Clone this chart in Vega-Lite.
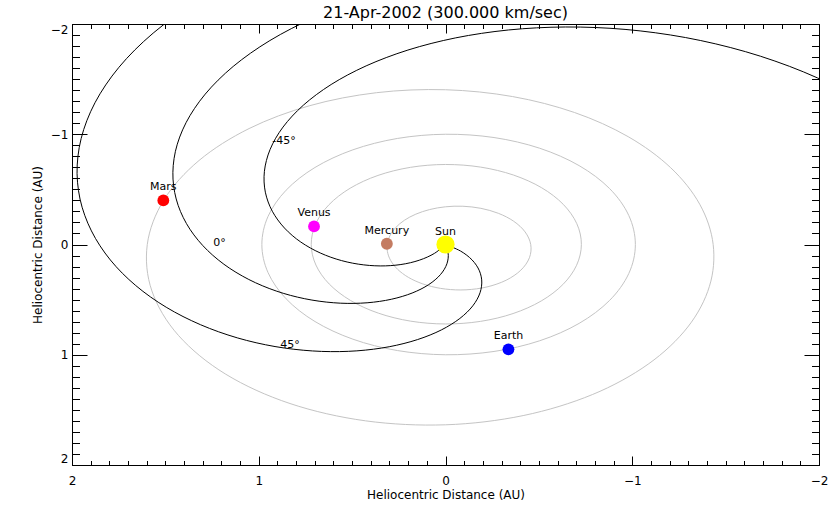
{
  "$schema": "https://vega.github.io/schema/vega-lite/v6.json",
  "width": 747,
  "height": 441,
  "autosize": {"type": "none"},
  "padding": {"left": 72, "top": 24, "right": 21, "bottom": 49},
  "background": "white",
  "title": {
    "text": "21-Apr-2002 (300.000 km/sec)",
    "font": "DejaVu Sans",
    "fontSize": 16,
    "fontWeight": "normal",
    "color": "black",
    "anchor": "middle",
    "offset": 2
  },
  "config": {"view": {"stroke": "black", "strokeWidth": 1}, "font": "DejaVu Sans"},
  "datasets": {
    "orbits": [
      {"planet": "Mercury", "a": 0, "x": 0.3120, "y": 0},
      {"planet": "Mercury", "a": 15, "x": 0.3086, "y": 0.0827},
      {"planet": "Mercury", "a": 30, "x": 0.2863, "y": 0.1653},
      {"planet": "Mercury", "a": 45, "x": 0.2440, "y": 0.2440},
      {"planet": "Mercury", "a": 60, "x": 0.1814, "y": 0.3141},
      {"planet": "Mercury", "a": 75, "x": 0.0991, "y": 0.3698},
      {"planet": "Mercury", "a": 90, "x": 0, "y": 0.4043},
      {"planet": "Mercury", "a": 105, "x": -0.1101, "y": 0.4110},
      {"planet": "Mercury", "a": 120, "x": -0.2222, "y": 0.3849},
      {"planet": "Mercury", "a": 135, "x": -0.3243, "y": 0.3243},
      {"planet": "Mercury", "a": 150, "x": -0.4034, "y": 0.2329},
      {"planet": "Mercury", "a": 165, "x": -0.4493, "y": 0.1204},
      {"planet": "Mercury", "a": 180, "x": -0.4564, "y": 0},
      {"planet": "Mercury", "a": 195, "x": -0.4262, "y": -0.1142},
      {"planet": "Mercury", "a": 210, "x": -0.3652, "y": -0.2109},
      {"planet": "Mercury", "a": 225, "x": -0.2830, "y": -0.2830},
      {"planet": "Mercury", "a": 240, "x": -0.1895, "y": -0.3281},
      {"planet": "Mercury", "a": 255, "x": -0.0930, "y": -0.3470},
      {"planet": "Mercury", "a": 270, "x": 0, "y": -0.3421},
      {"planet": "Mercury", "a": 285, "x": 0.0849, "y": -0.3170},
      {"planet": "Mercury", "a": 300, "x": 0.1589, "y": -0.2752},
      {"planet": "Mercury", "a": 315, "x": 0.2199, "y": -0.2199},
      {"planet": "Mercury", "a": 330, "x": 0.2665, "y": -0.1539},
      {"planet": "Mercury", "a": 345, "x": 0.2975, "y": -0.0797},
      {"planet": "Venus", "a": 0, "x": 0.7190, "y": 0},
      {"planet": "Venus", "a": 15, "x": 0.6940, "y": 0.1860},
      {"planet": "Venus", "a": 30, "x": 0.6222, "y": 0.3592},
      {"planet": "Venus", "a": 45, "x": 0.5081, "y": 0.5081},
      {"planet": "Venus", "a": 60, "x": 0.3595, "y": 0.6227},
      {"planet": "Venus", "a": 75, "x": 0.1863, "y": 0.6953},
      {"planet": "Venus", "a": 90, "x": 0, "y": 0.7208},
      {"planet": "Venus", "a": 105, "x": -0.1869, "y": 0.6974},
      {"planet": "Venus", "a": 120, "x": -0.3617, "y": 0.6264},
      {"planet": "Venus", "a": 135, "x": -0.5124, "y": 0.5124},
      {"planet": "Venus", "a": 150, "x": -0.6286, "y": 0.3629},
      {"planet": "Venus", "a": 165, "x": -0.7020, "y": 0.1881},
      {"planet": "Venus", "a": 180, "x": -0.7276, "y": 0},
      {"planet": "Venus", "a": 195, "x": -0.7033, "y": -0.1884},
      {"planet": "Venus", "a": 210, "x": -0.6306, "y": -0.3641},
      {"planet": "Venus", "a": 225, "x": -0.5148, "y": -0.5148},
      {"planet": "Venus", "a": 240, "x": -0.3638, "y": -0.6301},
      {"planet": "Venus", "a": 255, "x": -0.1881, "y": -0.7020},
      {"planet": "Venus", "a": 270, "x": 0, "y": -0.7258},
      {"planet": "Venus", "a": 285, "x": 0.1875, "y": -0.6999},
      {"planet": "Venus", "a": 300, "x": 0.3617, "y": -0.6264},
      {"planet": "Venus", "a": 315, "x": 0.5105, "y": -0.5105},
      {"planet": "Venus", "a": 330, "x": 0.6242, "y": -0.3604},
      {"planet": "Venus", "a": 345, "x": 0.6953, "y": -0.1863},
      {"planet": "Earth", "a": 0, "x": 0.9833, "y": 0},
      {"planet": "Earth", "a": 15, "x": 0.9503, "y": 0.2546},
      {"planet": "Earth", "a": 30, "x": 0.8534, "y": 0.4928},
      {"planet": "Earth", "a": 45, "x": 0.6988, "y": 0.6988},
      {"planet": "Earth", "a": 60, "x": 0.4959, "y": 0.8588},
      {"planet": "Earth", "a": 75, "x": 0.2577, "y": 0.9618},
      {"planet": "Earth", "a": 90, "x": 0, "y": 1.0},
      {"planet": "Earth", "a": 105, "x": -0.2599, "y": 0.9701},
      {"planet": "Earth", "a": 120, "x": -0.5042, "y": 0.8733},
      {"planet": "Earth", "a": 135, "x": -0.7155, "y": 0.7155},
      {"planet": "Earth", "a": 150, "x": -0.8786, "y": 0.5073},
      {"planet": "Earth", "a": 165, "x": -0.9815, "y": 0.2630},
      {"planet": "Earth", "a": 180, "x": -1.0167, "y": 0},
      {"planet": "Earth", "a": 195, "x": -0.9815, "y": -0.2630},
      {"planet": "Earth", "a": 210, "x": -0.8786, "y": -0.5073},
      {"planet": "Earth", "a": 225, "x": -0.7155, "y": -0.7155},
      {"planet": "Earth", "a": 240, "x": -0.5042, "y": -0.8733},
      {"planet": "Earth", "a": 255, "x": -0.2599, "y": -0.9701},
      {"planet": "Earth", "a": 270, "x": 0, "y": -1.0},
      {"planet": "Earth", "a": 285, "x": 0.2577, "y": -0.9618},
      {"planet": "Earth", "a": 300, "x": 0.4959, "y": -0.8588},
      {"planet": "Earth", "a": 315, "x": 0.6988, "y": -0.6988},
      {"planet": "Earth", "a": 330, "x": 0.8534, "y": -0.4928},
      {"planet": "Earth", "a": 345, "x": 0.9503, "y": -0.2546},
      {"planet": "Mars", "a": 0, "x": 1.5969, "y": 0},
      {"planet": "Mars", "a": 15, "x": 1.5722, "y": 0.4212},
      {"planet": "Mars", "a": 30, "x": 1.4296, "y": 0.8254},
      {"planet": "Mars", "a": 45, "x": 1.1766, "y": 1.1766},
      {"planet": "Mars", "a": 60, "x": 0.8328, "y": 1.4424},
      {"planet": "Mars", "a": 75, "x": 0.4285, "y": 1.5993},
      {"planet": "Mars", "a": 90, "x": 0, "y": 1.6354},
      {"planet": "Mars", "a": 105, "x": -0.4158, "y": 1.5518},
      {"planet": "Mars", "a": 120, "x": -0.7861, "y": 1.3615},
      {"planet": "Mars", "a": 135, "x": -1.0853, "y": 1.0853},
      {"planet": "Mars", "a": 150, "x": -1.2971, "y": 0.7489},
      {"planet": "Mars", "a": 165, "x": -1.4134, "y": 0.3787},
      {"planet": "Mars", "a": 180, "x": -1.4333, "y": 0},
      {"planet": "Mars", "a": 195, "x": -1.3614, "y": -0.3648},
      {"planet": "Mars", "a": 210, "x": -1.2059, "y": -0.6963},
      {"planet": "Mars", "a": 225, "x": -0.9781, "y": -0.9781},
      {"planet": "Mars", "a": 240, "x": -0.6911, "y": -1.1970},
      {"planet": "Mars", "a": 255, "x": -0.3595, "y": -1.3417},
      {"planet": "Mars", "a": 270, "x": 0, "y": -1.4037},
      {"planet": "Mars", "a": 285, "x": 0.3690, "y": -1.3771},
      {"planet": "Mars", "a": 300, "x": 0.7270, "y": -1.2592},
      {"planet": "Mars", "a": 315, "x": 1.0517, "y": -1.0517},
      {"planet": "Mars", "a": 330, "x": 1.3197, "y": -0.7620},
      {"planet": "Mars", "a": 345, "x": 1.5081, "y": -0.4041}
    ],
    "spirals": [
      {"s": "-45", "r": 0, "x": 0, "y": 0},
      {"s": "-45", "r": 0.1, "x": 0.0593, "y": 0.0805},
      {"s": "-45", "r": 0.2, "x": 0.1404, "y": 0.1425},
      {"s": "-45", "r": 0.3, "x": 0.2388, "y": 0.1816},
      {"s": "-45", "r": 0.4, "x": 0.3496, "y": 0.1943},
      {"s": "-45", "r": 0.5, "x": 0.4672, "y": 0.1781},
      {"s": "-45", "r": 0.6, "x": 0.5854, "y": 0.1318},
      {"s": "-45", "r": 0.7, "x": 0.6978, "y": 0.0549},
      {"s": "-45", "r": 0.8, "x": 0.7984, "y": -0.0513},
      {"s": "-45", "r": 0.9, "x": 0.8807, "y": -0.1851},
      {"s": "-45", "r": 1.0, "x": 0.9394, "y": -0.3428},
      {"s": "-45", "r": 1.1, "x": 0.9691, "y": -0.5205},
      {"s": "-45", "r": 1.2, "x": 0.9655, "y": -0.7124},
      {"s": "-45", "r": 1.3, "x": 0.9256, "y": -0.9129},
      {"s": "-45", "r": 1.4, "x": 0.8467, "y": -1.1150},
      {"s": "-45", "r": 1.5, "x": 0.7277, "y": -1.3116},
      {"s": "-45", "r": 1.6, "x": 0.5691, "y": -1.4954},
      {"s": "-45", "r": 1.7, "x": 0.3723, "y": -1.6587},
      {"s": "-45", "r": 1.8, "x": 0.1402, "y": -1.7946},
      {"s": "-45", "r": 1.9, "x": -0.1233, "y": -1.8960},
      {"s": "-45", "r": 2.0, "x": -0.4124, "y": -1.9570},
      {"s": "-45", "r": 2.1, "x": -0.7214, "y": -1.9721},
      {"s": "-45", "r": 2.2, "x": -1.0421, "y": -1.9375},
      {"s": "-45", "r": 2.3, "x": -1.3667, "y": -1.8499},
      {"s": "-45", "r": 2.4, "x": -1.6860, "y": -1.7081},
      {"s": "-45", "r": 2.5, "x": -1.9918, "y": -1.5110},
      {"s": "-45", "r": 2.6, "x": -2.2742, "y": -1.2602},
      {"s": "0", "r": 0, "x": 0, "y": 0},
      {"s": "0", "r": 0.1, "x": -0.0150, "y": 0.0989},
      {"s": "0", "r": 0.2, "x": -0.0015, "y": 0.2000},
      {"s": "0", "r": 0.3, "x": 0.0405, "y": 0.2972},
      {"s": "0", "r": 0.4, "x": 0.1098, "y": 0.3846},
      {"s": "0", "r": 0.5, "x": 0.2044, "y": 0.4563},
      {"s": "0", "r": 0.6, "x": 0.3207, "y": 0.5071},
      {"s": "0", "r": 0.7, "x": 0.4546, "y": 0.5323},
      {"s": "0", "r": 0.8, "x": 0.6009, "y": 0.5282},
      {"s": "0", "r": 0.9, "x": 0.7537, "y": 0.4919},
      {"s": "0", "r": 1.0, "x": 0.9067, "y": 0.4219},
      {"s": "0", "r": 1.1, "x": 1.0533, "y": 0.3172},
      {"s": "0", "r": 1.2, "x": 1.1866, "y": 0.1790},
      {"s": "0", "r": 1.3, "x": 1.3000, "y": 0.0088},
      {"s": "0", "r": 1.4, "x": 1.3871, "y": -0.1897},
      {"s": "0", "r": 1.5, "x": 1.4421, "y": -0.4130},
      {"s": "0", "r": 1.6, "x": 1.4598, "y": -0.6549},
      {"s": "0", "r": 1.7, "x": 1.4362, "y": -0.9097},
      {"s": "0", "r": 1.8, "x": 1.3680, "y": -1.1698},
      {"s": "0", "r": 1.9, "x": 1.2536, "y": -1.4277},
      {"s": "0", "r": 2.0, "x": 1.0922, "y": -1.6754},
      {"s": "0", "r": 2.1, "x": 0.8845, "y": -1.9047},
      {"s": "0", "r": 2.2, "x": 0.6334, "y": -2.1069},
      {"s": "0", "r": 2.3, "x": 0.3416, "y": -2.2745},
      {"s": "45", "r": 0, "x": 0, "y": 0},
      {"s": "45", "r": 0.1, "x": -0.0805, "y": 0.0593},
      {"s": "45", "r": 0.2, "x": -0.1425, "y": 0.1404},
      {"s": "45", "r": 0.3, "x": -0.1816, "y": 0.2388},
      {"s": "45", "r": 0.4, "x": -0.1943, "y": 0.3496},
      {"s": "45", "r": 0.5, "x": -0.1781, "y": 0.4672},
      {"s": "45", "r": 0.6, "x": -0.1318, "y": 0.5854},
      {"s": "45", "r": 0.7, "x": -0.0549, "y": 0.6978},
      {"s": "45", "r": 0.8, "x": 0.0513, "y": 0.7984},
      {"s": "45", "r": 0.9, "x": 0.1851, "y": 0.8807},
      {"s": "45", "r": 1.0, "x": 0.3428, "y": 0.9394},
      {"s": "45", "r": 1.1, "x": 0.5205, "y": 0.9691},
      {"s": "45", "r": 1.2, "x": 0.7124, "y": 0.9655},
      {"s": "45", "r": 1.3, "x": 0.9129, "y": 0.9256},
      {"s": "45", "r": 1.4, "x": 1.1150, "y": 0.8467},
      {"s": "45", "r": 1.5, "x": 1.3116, "y": 0.7277},
      {"s": "45", "r": 1.6, "x": 1.4954, "y": 0.5691},
      {"s": "45", "r": 1.7, "x": 1.6587, "y": 0.3723},
      {"s": "45", "r": 1.8, "x": 1.7946, "y": 0.1402},
      {"s": "45", "r": 1.9, "x": 1.8960, "y": -0.1233},
      {"s": "45", "r": 2.0, "x": 1.9570, "y": -0.4124},
      {"s": "45", "r": 2.1, "x": 1.9721, "y": -0.7214},
      {"s": "45", "r": 2.2, "x": 1.9375, "y": -1.0421},
      {"s": "45", "r": 2.3, "x": 1.8499, "y": -1.3667},
      {"s": "45", "r": 2.4, "x": 1.7081, "y": -1.6860},
      {"s": "45", "r": 2.5, "x": 1.5110, "y": -1.9918},
      {"s": "45", "r": 2.6, "x": 1.2602, "y": -2.2742}
    ],
    "bodies": [
      {"name": "Sun", "x": 0, "y": 0},
      {"name": "Mercury", "x": 0.314, "y": -0.007},
      {"name": "Venus", "x": 0.704, "y": -0.164},
      {"name": "Earth", "x": -0.337, "y": 0.951},
      {"name": "Mars", "x": 1.511, "y": -0.400}
    ],
    "spiralLabels": [
      {"label": "-45°", "x": 0.865, "y": -0.939},
      {"label": "0°", "x": 1.21, "y": -0.016},
      {"label": "45°", "x": 0.832, "y": 0.913}
    ]
  },
  "layer": [
    {
      "data": {"name": "orbits"},
      "mark": {"type": "line", "color": "#c4c4c4", "strokeWidth": 1, "interpolate": "cardinal-closed", "clip": true},
      "encoding": {
        "x": {
          "field": "x", "type": "quantitative",
          "scale": {"domain": [-2, 2], "reverse": true, "nice": false, "zero": false},
          "axis": {
            "orient": "bottom",
            "values": [-2, -1.9, -1.8, -1.7, -1.6, -1.5, -1.4, -1.3, -1.2, -1.1, -1, -0.9, -0.8, -0.7, -0.6, -0.5, -0.4, -0.3, -0.2, -0.1, 0, 0.1, 0.2, 0.3, 0.4, 0.5, 0.6, 0.7, 0.8, 0.9, 1, 1.1, 1.2, 1.3, 1.4, 1.5, 1.6, 1.7, 1.8, 1.9, 2],
            "grid": false,
            "domain": true,
            "ticks": true,
            "domainColor": "black",
            "tickColor": "black",
            "tickSize": {"condition": {"test": "abs(datum.value - round(datum.value)) < 0.001", "value": -9}, "value": -4.5},
            "labelExpr": "abs(datum.value - round(datum.value)) < 0.001 ? format(datum.value, 'd') : ''",
            "labelFont": "DejaVu Sans",
            "labelFontSize": 12,
            "labelColor": "black",
            "labelPadding": 19,
            "labelFlush": false,
            "labelOverlap": false,
            "title": "Heliocentric Distance (AU)",
            "titleFont": "DejaVu Sans",
            "titleFontSize": 12,
            "titleFontWeight": "normal",
            "titleColor": "black",
            "titleY": 29,
            "titleBaseline": "middle"
          }
        },
        "y": {
          "field": "y", "type": "quantitative",
          "scale": {"domain": [-2, 2], "reverse": true, "nice": false, "zero": false},
          "axis": {
            "orient": "left",
            "values": [-2, -1.9, -1.8, -1.7, -1.6, -1.5, -1.4, -1.3, -1.2, -1.1, -1, -0.9, -0.8, -0.7, -0.6, -0.5, -0.4, -0.3, -0.2, -0.1, 0, 0.1, 0.2, 0.3, 0.4, 0.5, 0.6, 0.7, 0.8, 0.9, 1, 1.1, 1.2, 1.3, 1.4, 1.5, 1.6, 1.7, 1.8, 1.9, 2],
            "grid": false,
            "domain": true,
            "ticks": true,
            "domainColor": "black",
            "tickColor": "black",
            "tickSize": {"condition": {"test": "abs(datum.value - round(datum.value)) < 0.001", "value": -15}, "value": -7.5},
            "labelExpr": "abs(datum.value - round(datum.value)) < 0.001 ? format(datum.value, 'd') : ''",
            "labelFont": "DejaVu Sans",
            "labelFontSize": 12,
            "labelColor": "black",
            "labelPadding": 19,
            "labelFlush": true,
            "labelOverlap": false,
            "title": "Heliocentric Distance (AU)",
            "titleFont": "DejaVu Sans",
            "titleFontSize": 12,
            "titleFontWeight": "normal",
            "titleColor": "black",
            "titleX": -35,
            "titleBaseline": "middle"
          }
        },
        "detail": {"field": "planet"},
        "order": {"field": "a", "type": "quantitative"}
      }
    },
    {
      "data": {"name": "spirals"},
      "mark": {"type": "line", "color": "black", "strokeWidth": 1, "interpolate": "cardinal", "clip": true},
      "encoding": {
        "x": {
          "field": "x", "type": "quantitative",
          "scale": {"domain": [-2, 2], "reverse": true, "nice": false, "zero": false},
          "axis": {
            "orient": "top",
            "values": [-2, -1.9, -1.8, -1.7, -1.6, -1.5, -1.4, -1.3, -1.2, -1.1, -1, -0.9, -0.8, -0.7, -0.6, -0.5, -0.4, -0.3, -0.2, -0.1, 0, 0.1, 0.2, 0.3, 0.4, 0.5, 0.6, 0.7, 0.8, 0.9, 1, 1.1, 1.2, 1.3, 1.4, 1.5, 1.6, 1.7, 1.8, 1.9, 2],
            "grid": false,
            "labels": false,
            "title": null,
            "domain": true,
            "ticks": true,
            "domainColor": "black",
            "domainWidth": 1,
            "tickColor": "black",
            "tickWidth": 1,
            "tickSize": {"condition": {"test": "abs(datum.value - round(datum.value)) < 0.001", "value": -9}, "value": -4.5}
          }
        },
        "y": {
          "field": "y", "type": "quantitative",
          "scale": {"domain": [-2, 2], "reverse": true, "nice": false, "zero": false},
          "axis": {
            "orient": "right",
            "values": [-2, -1.9, -1.8, -1.7, -1.6, -1.5, -1.4, -1.3, -1.2, -1.1, -1, -0.9, -0.8, -0.7, -0.6, -0.5, -0.4, -0.3, -0.2, -0.1, 0, 0.1, 0.2, 0.3, 0.4, 0.5, 0.6, 0.7, 0.8, 0.9, 1, 1.1, 1.2, 1.3, 1.4, 1.5, 1.6, 1.7, 1.8, 1.9, 2],
            "grid": false,
            "labels": false,
            "title": null,
            "domain": true,
            "ticks": true,
            "domainColor": "black",
            "domainWidth": 1,
            "tickColor": "black",
            "tickWidth": 1,
            "tickSize": {"condition": {"test": "abs(datum.value - round(datum.value)) < 0.001", "value": -15}, "value": -7.5}
          }
        },
        "detail": {"field": "s"},
        "order": {"field": "r", "type": "quantitative"}
      }
    },
    {
      "data": {"name": "bodies"},
      "transform": [{"filter": "datum.name !== 'Sun'"}],
      "mark": {"type": "circle", "size": 140, "opacity": 1},
      "encoding": {
        "x": {"field": "x", "type": "quantitative", "scale": {"domain": [-2, 2], "reverse": true, "nice": false, "zero": false}, "axis": null},
        "y": {"field": "y", "type": "quantitative", "scale": {"domain": [-2, 2], "reverse": true, "nice": false, "zero": false}, "axis": null},
        "color": {
          "field": "name", "type": "nominal",
          "scale": {"domain": ["Sun", "Mercury", "Venus", "Earth", "Mars"], "range": ["#ffff00", "#c47c62", "#ff00ff", "#0000ff", "#ff0000"]},
          "legend": null
        }
      }
    },
    {
      "data": {"name": "bodies"},
      "transform": [{"filter": "datum.name === 'Sun'"}],
      "mark": {"type": "circle", "size": 330, "opacity": 1},
      "encoding": {
        "x": {"field": "x", "type": "quantitative", "scale": {"domain": [-2, 2], "reverse": true, "nice": false, "zero": false}, "axis": null},
        "y": {"field": "y", "type": "quantitative", "scale": {"domain": [-2, 2], "reverse": true, "nice": false, "zero": false}, "axis": null},
        "color": {"field": "name", "type": "nominal", "legend": null}
      }
    },
    {
      "data": {"name": "bodies"},
      "mark": {"type": "text", "font": "DejaVu Sans", "fontSize": 11, "color": "black", "align": "center", "baseline": "alphabetic", "dy": -10},
      "encoding": {
        "x": {"field": "x", "type": "quantitative", "scale": {"domain": [-2, 2], "reverse": true, "nice": false, "zero": false}, "axis": null},
        "y": {"field": "y", "type": "quantitative", "scale": {"domain": [-2, 2], "reverse": true, "nice": false, "zero": false}, "axis": null},
        "text": {"field": "name"}
      }
    },
    {
      "data": {"name": "spiralLabels"},
      "mark": {"type": "text", "font": "DejaVu Sans", "fontSize": 11, "color": "black", "align": "center", "baseline": "middle"},
      "encoding": {
        "x": {"field": "x", "type": "quantitative", "scale": {"domain": [-2, 2], "reverse": true, "nice": false, "zero": false}, "axis": null},
        "y": {"field": "y", "type": "quantitative", "scale": {"domain": [-2, 2], "reverse": true, "nice": false, "zero": false}, "axis": null},
        "text": {"field": "label"}
      }
    }
  ],
  "resolve": {"axis": {"x": "independent", "y": "independent"}}
}
